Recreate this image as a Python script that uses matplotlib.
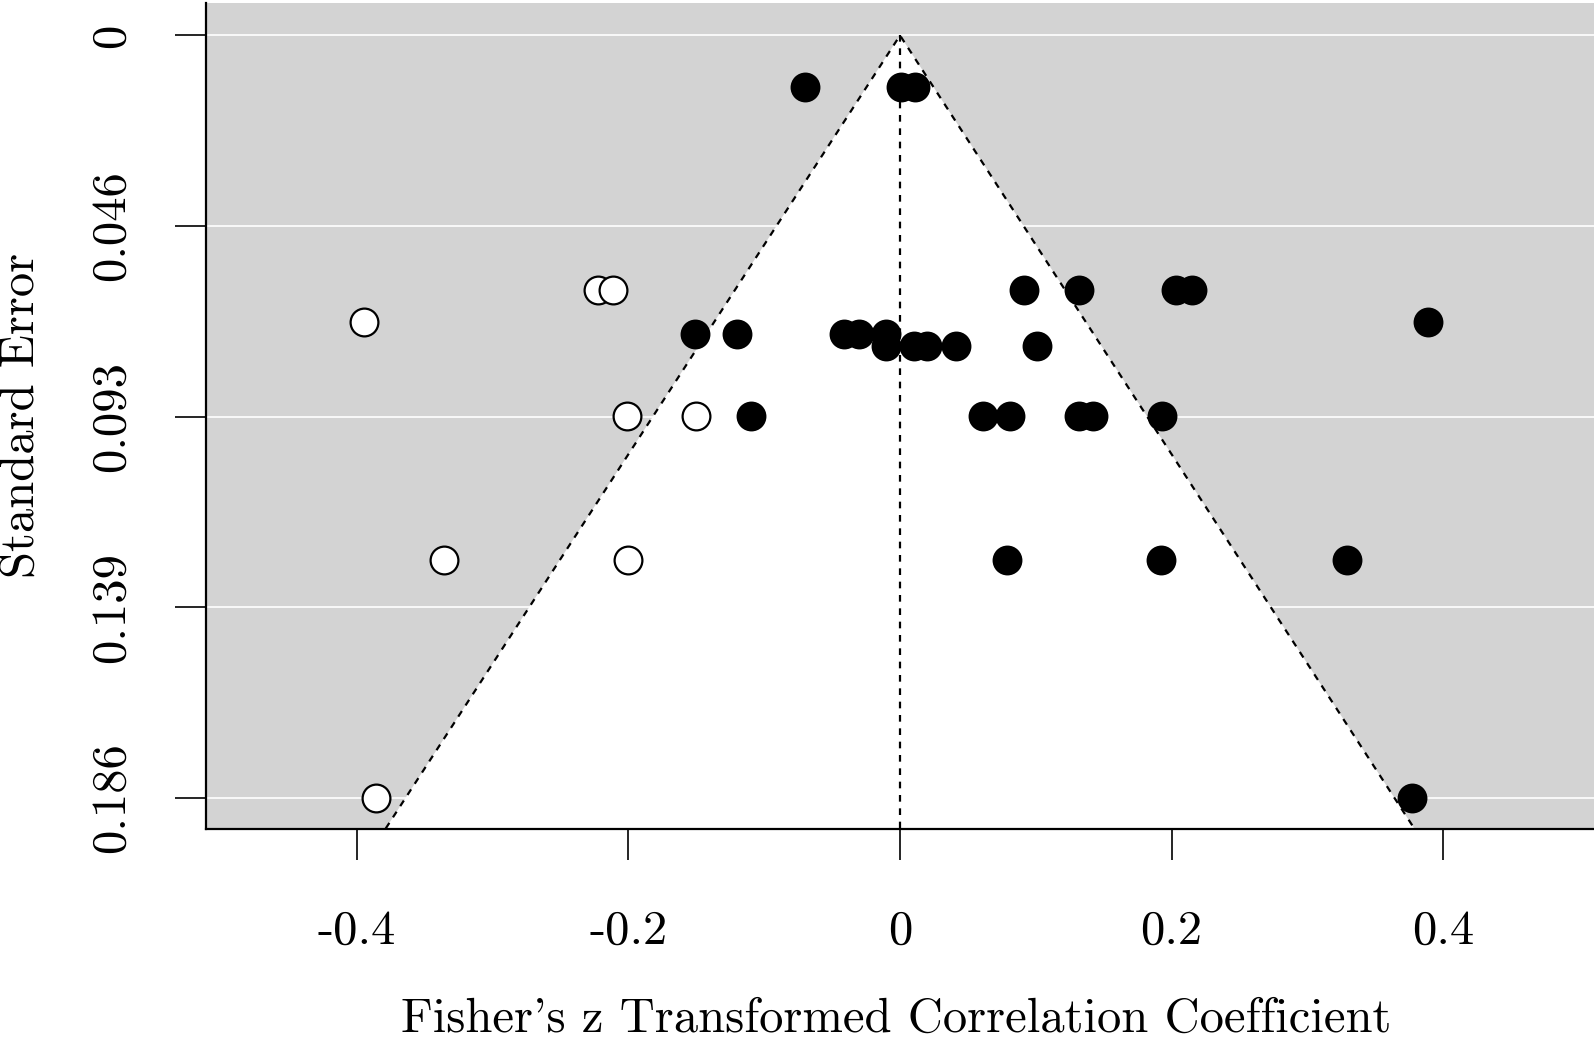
'''
Funnel plot with trim-and-fill points
filled = observed studies, open = imputed ones
'''

import matplotlib
matplotlib.use("Agg")
import matplotlib.pyplot as plt

plt.rcParams['font.family'] = ['cmr10', 'DejaVu Serif']
plt.rcParams['axes.unicode_minus'] = False

# observed studies (Fisher's z, standard error)
z_obs = [-0.070, 0.001, 0.011,
         0.091, 0.132, 0.203, 0.215,
         0.389,
         -0.151, -0.120, -0.041, -0.030, -0.010,
         -0.010, 0.010, 0.020, 0.041, 0.101,
         -0.110, 0.061, 0.081, 0.132, 0.142, 0.193,
         0.079, 0.192, 0.329,
         0.377]
se_obs = [0.0126, 0.0126, 0.0126,
          0.0621, 0.0621, 0.0621, 0.0621,
          0.0697,
          0.0727, 0.0727, 0.0727, 0.0727, 0.0727,
          0.0757, 0.0757, 0.0757, 0.0757, 0.0757,
          0.0928, 0.0928, 0.0928, 0.0928, 0.0928, 0.0928,
          0.1279, 0.1279, 0.1279,
          0.1857]

# imputed studies from trim and fill
z_fill = [-0.222, -0.211, -0.395, -0.201, -0.150, -0.336, -0.200, -0.386]
se_fill = [0.0621, 0.0621, 0.0697, 0.0928, 0.0928, 0.1279, 0.1279, 0.1857]

estimate = 0.0
max_se = 0.1857
ytick_frac = [0, 0.25, 0.5, 0.75, 1]
xticks = [-0.4, -0.2, 0, 0.2, 0.4]
xtick_labels = ["-0.4", "-0.2", "0", "0.2", "0.4"]

fig = plt.figure(figsize=(15.94, 10.43), dpi=100)
ax = fig.add_axes([206 / 1594, 214.5 / 1043, 1388 / 1594, 825.5 / 1043])

xlo, xhi = -0.511, 0.511
ylo, yhi = 0.1932, -0.0079
ax.set_xlim(xlo, xhi)
ax.set_ylim(ylo, yhi)
ax.set_facecolor("#d3d3d3")

yticks = [f * max_se for f in ytick_frac]
ytick_labels = ["0" if t == 0 else "%.3f" % t for t in yticks]

# white grid lines under the funnel
for t in yticks:
    ax.axhline(t, color="white", lw=1.2, zorder=1)

# funnel region
fx = [estimate - 1.96 * ylo, estimate, estimate + 1.96 * ylo]
fy = [ylo, 0, ylo]
ax.fill(fx, fy, color="white", zorder=2, lw=0)
ax.plot(fx, fy, color="black", lw=1.6, dashes=(3, 3), zorder=3)
ax.plot([estimate, estimate], [0, ylo], color="black", lw=1.6, dashes=(3, 3), zorder=3)

ax.plot(z_obs, se_obs, 'o', color="black", markersize=20, markeredgewidth=1.5,
        markeredgecolor="black", zorder=4, clip_on=False)
ax.plot(z_fill, se_fill, 'o', color="white", markersize=20, markeredgewidth=1.6,
        markeredgecolor="black", zorder=4, clip_on=False)

ax.set_xticks(xticks)
ax.set_xticklabels(xtick_labels)
ax.set_yticks(yticks)
ax.set_yticklabels(ytick_labels, rotation=90, va="center")
ax.tick_params(axis="both", labelsize=35, length=22, width=1.2, direction="out")
ax.tick_params(axis="x", pad=36)
ax.tick_params(axis="y", pad=30)

for s in ["top", "right"]:
    ax.spines[s].set_visible(False)
for s in ["left", "bottom"]:
    ax.spines[s].set_linewidth(1.6)

ax.set_xlabel("Fisher's z Transformed Correlation Coefficient", fontsize=35)
ax.xaxis.set_label_coords(0.497, -0.2315)
ax.xaxis.label.set_va("center")
ax.set_ylabel("Standard Error", fontsize=35)
ax.yaxis.set_label_coords(-0.1326, 0.5)
ax.yaxis.label.set_va("center")

fig.savefig("out.png", dpi=100)
